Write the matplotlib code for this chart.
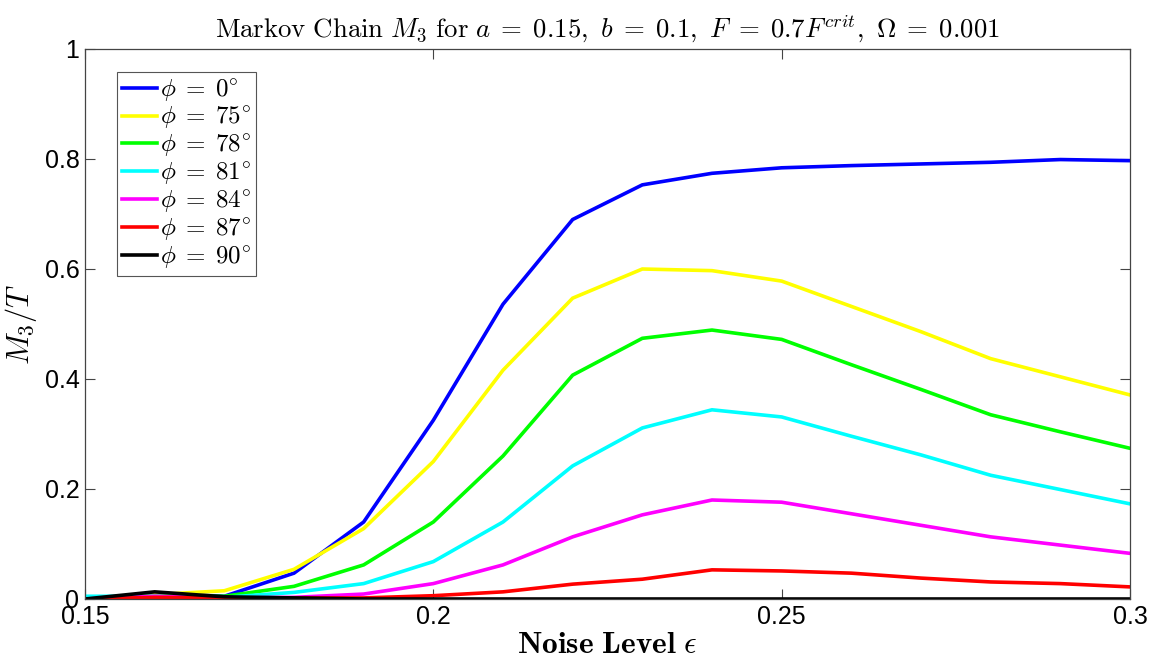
import matplotlib
matplotlib.use("Agg")
import matplotlib.pyplot as plt

plt.rcParams['mathtext.fontset'] = 'cm'
plt.rcParams['font.family'] = ['Liberation Sans', 'DejaVu Sans']

noise = [0.15, 0.16, 0.17, 0.18, 0.19, 0.20, 0.21, 0.22, 0.23, 0.24, 0.25, 0.26, 0.27, 0.28, 0.29, 0.30]

m_phi0  = [0.000, 0.010, 0.005, 0.047, 0.140, 0.325, 0.536, 0.690, 0.753, 0.774, 0.784, 0.788, 0.791, 0.794, 0.799, 0.797]
m_phi75 = [0.000, 0.008, 0.015, 0.054, 0.128, 0.250, 0.416, 0.547, 0.600, 0.597, 0.578, 0.532, 0.486, 0.437, 0.404, 0.371]
m_phi78 = [0.000, 0.005, 0.005, 0.023, 0.062, 0.140, 0.260, 0.407, 0.474, 0.489, 0.472, 0.426, 0.381, 0.335, 0.304, 0.274]
m_phi81 = [0.005, 0.005, 0.003, 0.012, 0.028, 0.068, 0.140, 0.242, 0.311, 0.344, 0.331, 0.296, 0.262, 0.225, 0.199, 0.173]
m_phi84 = [0.000, 0.005, 0.002, 0.003, 0.009, 0.028, 0.062, 0.113, 0.153, 0.180, 0.176, 0.155, 0.134, 0.113, 0.098, 0.083]
m_phi87 = [0.000, 0.003, 0.002, 0.002, 0.002, 0.006, 0.013, 0.027, 0.036, 0.053, 0.051, 0.047, 0.038, 0.031, 0.028, 0.022]
m_phi90 = [0.000, 0.013, 0.004, 0.002, 0.000, 0.000, 0.000, 0.000, 0.000, 0.000, 0.000, 0.000, 0.000, 0.000, 0.000, 0.000]

series = [m_phi0, m_phi75, m_phi78, m_phi81, m_phi84, m_phi87, m_phi90]
labels = [r'$\phi\;=\;0^{\circ}$', r'$\phi\;=\;75^{\circ}$', r'$\phi\;=\;78^{\circ}$', r'$\phi\;=\;81^{\circ}$',
          r'$\phi\;=\;84^{\circ}$', r'$\phi\;=\;87^{\circ}$', r'$\phi\;=\;90^{\circ}$']
colors = ['#0000ff', '#ffff00', '#00ff00', '#00ffff', '#ff00ff', '#ff0000', '#000000']

xticks = [0.15, 0.2, 0.25, 0.3]
xticklabels = ['0.15', '0.2', '0.25', '0.3']
yticks = [0, 0.2, 0.4, 0.6, 0.8, 1]
yticklabels = ['0', '0.2', '0.4', '0.6', '0.8', '1']

fig = plt.figure(figsize=(11.56, 6.61), dpi=100)
ax = fig.add_axes([85/1156, 1 - 599/661, (1130 - 85)/1156, (599 - 49)/661])

for ys, lab, c in zip(series, labels, colors):
    ax.plot(noise, ys, color=c, lw=2.6, label=lab, solid_joinstyle='miter')

ax.set_xlim(0.15, 0.3)
ax.set_ylim(0, 1)
ax.set_xticks(xticks)
ax.set_xticklabels(xticklabels)
ax.set_yticks(yticks)
ax.set_yticklabels(yticklabels)
ax.tick_params(direction='in', length=7, width=0.8, labelsize=18, color='#444444',
               top=True, right=True, pad=4)
for s in ax.spines.values():
    s.set_color('#444444')
    s.set_linewidth(0.9)

ax.set_title(r'$\mathrm{Markov\ Chain}\ M_3\ \mathrm{for}\ a\;=\;0.15,\ b\;=\;0.1,\ F\;=\;0.7F^{crit},\ \Omega\;=\;0.001$',
             fontsize=19.3, pad=8)
ax.set_xlabel(r'$\mathbf{Noise\ Level}\ \epsilon$', fontsize=22.5, labelpad=1)
ax.set_ylabel(r'$M_3/T$', fontsize=22, labelpad=4)

leg = ax.legend(loc='upper left', bbox_to_anchor=(32/1045, 1 - 23/550), borderaxespad=0,
                fontsize=18, handlelength=1.4, handletextpad=0.1, labelspacing=0.05,
                borderpad=0.2, fancybox=False, framealpha=1, edgecolor='#555555')
leg.get_frame().set_linewidth(0.8)

fig.savefig('out.png', dpi=100)
